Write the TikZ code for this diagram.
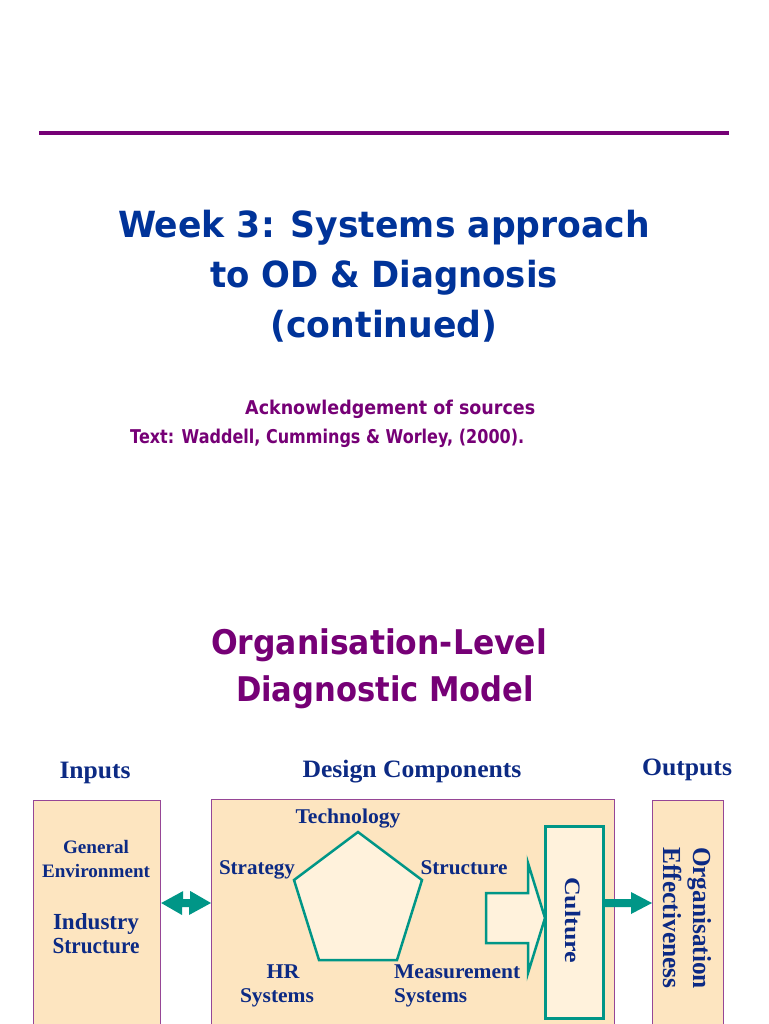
\documentclass[tikz,border=0pt]{standalone}
\usepackage{fontspec}
\setmainfont{Liberation Serif}
\newfontfamily\sansfont{DejaVu Sans}
\usetikzlibrary{calc}
\definecolor{ttlblue}{RGB}{0,51,153}
\definecolor{dblue}{RGB}{12,42,132}
\definecolor{purp}{RGB}{118,0,118}
\definecolor{boxfill}{RGB}{253,229,192}
\definecolor{lightfill}{RGB}{255,242,220}
\definecolor{myteal}{RGB}{0,150,135}
\definecolor{boxline}{RGB}{150,70,150}
\newsavebox\fitbox
\newcommand\fitx[2]{\sbox\fitbox{#2}\pgfmathsetmacro\fitr{#1/\the\wd\fitbox}\scalebox{\fitr}[1]{\usebox\fitbox}}
\tikzset{
  ttl/.style={text=ttlblue, font=\sansfont\bfseries\fontsize{36}{42}\selectfont, anchor=base, inner sep=0},
  ack/.style={text=purp, font=\sansfont\bfseries\fontsize{19}{22}\selectfont, anchor=base west, inner sep=0},
  sub/.style={text=purp, font=\sansfont\bfseries\fontsize{34}{40}\selectfont, anchor=base, inner sep=0},
  hdr/.style={text=dblue, font=\bfseries\fontsize{25}{29}\selectfont, anchor=base, inner sep=0},
  lbl/.style={text=dblue, font=\bfseries\fontsize{21}{25}\selectfont, anchor=base, inner sep=0},
  sml/.style={text=dblue, font=\bfseries\fontsize{19}{23}\selectfont, anchor=base, inner sep=0},
  mid/.style={text=dblue, font=\bfseries\fontsize{23}{27}\selectfont, anchor=base, inner sep=0},
  vert/.style={text=dblue, inner sep=0, anchor=base, rotate=-90},
  bigbox/.style={draw=boxline, line width=1.2pt, fill=boxfill, inner sep=0, anchor=north west},
  tealbox/.style={draw=myteal, line width=2.5pt, fill=lightfill, inner sep=0, anchor=north west},
  tealshape/.style={draw=myteal, line width=2.5pt, fill=lightfill, line join=miter},
  solidarrow/.style={fill=myteal, draw=none}
}
\begin{document}
\begin{tikzpicture}[x=1pt, y=-1pt]
\useasboundingbox (0,0) rectangle (768,1024);
\fill[white] (0,0) rectangle (768,1024);
\clip (0,0) rectangle (768,1024);

% top rule
\coordinate (ruleL) at (39,133);
\coordinate (ruleR) at (729,133);
\draw[purp, line width=4.5pt] (ruleL) -- (ruleR);

% title
\node[ttl] (t1) at (384,237) {\fitx{532}{Week 3: Systems approach}};
\node[ttl] (t2) at (384,287) {\fitx{348}{to OD \& Diagnosis}};
\node[ttl] (t3) at (384,337) {\fitx{227}{(continued)}};

\node[ack] (a1) at (245,414) {\fitx{290}{Acknowledgement of sources}};
\node[ack] (a2) at (130,443) {\fitx{394}{Text: Waddell, Cummings \& Worley, (2000).}};

\node[sub] (s1) at (379,654) {\fitx{336}{Organisation-Level}};
\node[sub] (s2) at (385,701) {\fitx{298}{Diagnostic Model}};

% headers
\node[hdr] (hin) at (95,778) {\fitx{71}{Inputs}};
\node[hdr] (hdc) at (412,777) {\fitx{219}{Design Components}};
\node[hdr] (hout) at (687,775) {\fitx{90}{Outputs}};

% boxes
\node[bigbox, minimum width=127pt, minimum height=240pt] (inbox) at (33,800) {};
\node[bigbox, minimum width=403pt, minimum height=240pt] (dbox) at (211,799) {};
\node[bigbox, minimum width=71pt, minimum height=240pt] (outbox) at (652,800) {};

% input texts
\node[sml] (gen) at (96,853) {\fitx{66}{General}};
\node[sml] (env) at (96,877) {\fitx{108}{Environment}};
\node[mid] (ind) at (96,929) {\fitx{86}{Industry}};
\node[mid] (istr) at (96,953) {\fitx{87}{Structure}};

% pentagon
\coordinate (p1) at (358,832);
\coordinate (p2) at (422,880);
\coordinate (p3) at (397,960);
\coordinate (p4) at (319,960);
\coordinate (p5) at (294,880);
\draw[tealshape] (p1) -- (p2) -- (p3) -- (p4) -- (p5) -- cycle;

\node[lbl] (tech) at (348,823) {\fitx{105}{Technology}};
\node[lbl] (strat) at (257,874) {\fitx{76}{Strategy}};
\node[lbl] (struc) at (464,874) {\fitx{87}{Structure}};
\node[lbl] (hr) at (283,978) {\fitx{33}{HR}};
\node[lbl] (hrs) at (277,1002) {\fitx{74}{Systems}};
\node[lbl, anchor=base west] (meas) at (394,978) {\fitx{126}{Measurement}};
\node[lbl, anchor=base west] (meass) at (394,1002) {\fitx{73}{Systems}};

% hollow arrow into culture
\coordinate (ha) at (486,893);
\draw[tealshape] (ha) -- ++(42,0) -- ++(0,-30) -- (545,918) -- (528,973) -- ++(0,-30) -- ++(-42,0) -- cycle;

% culture box
\node[tealbox, minimum width=58pt, minimum height=192pt] (cult) at (544,825) {};
\node[vert, font=\bfseries\fontsize{22}{26}\selectfont] (cultt) at (565,920) {\fitx{86}{Culture}};

% output texts
\node[vert, font=\bfseries\fontsize{26}{30}\selectfont] (org) at (693,918) {\fitx{142}{Organisation}};
\node[vert, font=\bfseries\fontsize{26}{30}\selectfont] (eff) at (663,918) {\fitx{141}{Effectiveness}};

% double arrow inputs <-> design
\coordinate (row) at (0,903);
\coordinate (la) at (inbox.east |- row);
\coordinate (ra) at (dbox.west |- row);
\fill[solidarrow] (la) -- ++(22,-12) -- ++(0,8) -- ++(7,0) -- ++(0,-8) -- (ra) -- ++(-22,12) -- ++(0,-8) -- ++(-7,0) -- ++(0,8) -- cycle;

% arrow culture -> outputs
\coordinate (cs) at (cult.east |- row);
\coordinate (ct) at (outbox.west |- row);
\fill[solidarrow] ($(cs)+(0,-4)$) -- ($(ct)+(-21,-4)$) -- ($(ct)+(-21,-11)$) -- (ct) -- ($(ct)+(-21,11)$) -- ($(ct)+(-21,4)$) -- ($(cs)+(0,4)$) -- cycle;
\end{tikzpicture}
\end{document}
